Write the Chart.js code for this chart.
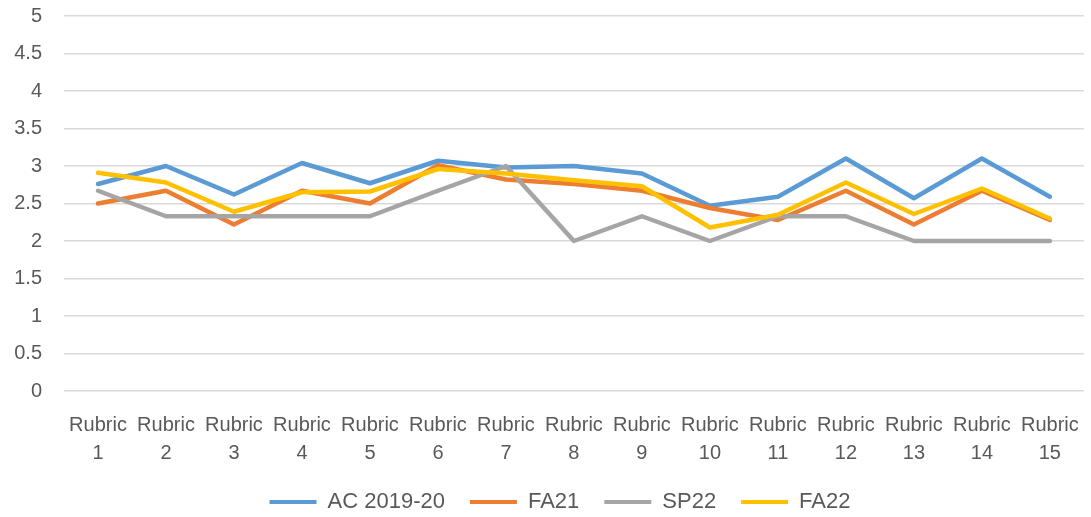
<!DOCTYPE html>
<html>
<head>
<meta charset="utf-8">
<script src="https://cdn.jsdelivr.net/npm/chart.js@4/dist/chart.umd.min.js"></script>
<style>
html,body{margin:0;padding:0;background:#fff;}
#wrap{width:1091px;height:517px;}
</style>
</head>
<body>
<div id="wrap"><canvas id="c" width="1091" height="517"></canvas></div>
<script>
const categories = ['1','2','3','4','5','6','7','8','9','10','11','12','13','14','15'];
const seriesNames = ['AC 2019-20','FA21','SP22','FA22'];
const yTicks = [0,0.5,1,1.5,2,2.5,3,3.5,4,4.5,5];
const ac201920 = [2.76,3.00,2.62,3.04,2.77,3.07,2.98,3.00,2.90,2.47,2.59,3.10,2.57,3.10,2.59];
const fa21     = [2.50,2.67,2.22,2.67,2.50,3.01,2.82,2.76,2.67,2.44,2.28,2.67,2.22,2.67,2.28];
const sp22     = [2.67,2.33,2.33,2.33,2.33,2.67,3.00,2.00,2.33,2.00,2.33,2.33,2.00,2.00,2.00];
const fa22     = [2.91,2.78,2.39,2.65,2.66,2.96,2.90,2.81,2.73,2.18,2.35,2.78,2.36,2.70,2.30];
const colors = ['#5B9BD5','#ED7D31','#A5A5A5','#FFC000'];
const values = [ac201920, fa21, sp22, fa22];

const datasets = values.map((v,i)=>({
  label: seriesNames[i],
  data: v,
  borderColor: colors[i],
  backgroundColor: colors[i],
  borderWidth: 4.5,
  pointRadius: 0,
  pointHoverRadius: 0,
  tension: 0,
  fill: false,
  borderCapStyle: 'round',
  borderJoinStyle: 'round',
  order: 3 - i
}));

const fam = '"Liberation Sans", Arial, sans-serif';
const font = {family: fam, size: 20};

const legendShift = {
  id: 'legendShift',
  afterLayout(chart) {
    if (chart.legend) {
      chart.legend.left += 18;
      chart.legend.right += 18;
      chart.legend.top += 2;
      chart.legend.bottom += 2;
    }
  }
};

new Chart(document.getElementById('c'), {
  type: 'line',
  data: {
    labels: categories.map(c => ['Rubric', c]),
    datasets: datasets
  },
  plugins: [legendShift],
  options: {
    responsive: false,
    animation: false,
    layout: {padding: {top: 16, right: 7, bottom: -4, left: 0}},
    plugins: {
      tooltip: {enabled: false},
      legend: {
        position: 'bottom',
        labels: {
          color: '#595959',
          font: {family: fam, size: 22},
          boxWidth: 47,
          boxHeight: 4,
          padding: 25,
          useBorderRadius: true,
          borderRadius: 2,
          generateLabels: (chart) => chart.data.datasets.map((d,i)=>({
            text: d.label,
            fillStyle: d.borderColor,
            strokeStyle: d.borderColor,
            lineWidth: 0,
            fontColor: '#595959',
            datasetIndex: i,
            hidden: false
          }))
        }
      }
    },
    scales: {
      x: {
        offset: true,
        afterFit: s => { s.height = 73; },
        grid: {display: false},
        border: {display: false},
        ticks: {color: '#595959', font: {family: fam, size: 20, lineHeight: 1.4}, maxRotation: 0, autoSkip: false, padding: 12}
      },
      y: {
        min: 0, max: 5,
        afterFit: s => { s.width = 64; s.paddingTop = 0; s.paddingBottom = 0; },
        afterBuildTicks: s => { s.ticks = yTicks.map(v => ({value: v})); },
        grid: {color: '#D9D9D9', lineWidth: 1.5, drawTicks: false},
        border: {display: false},
        ticks: {color: '#595959', font: font, padding: 22, callback: v => String(v)}
      }
    }
  }
});
</script>
</body>
</html>
